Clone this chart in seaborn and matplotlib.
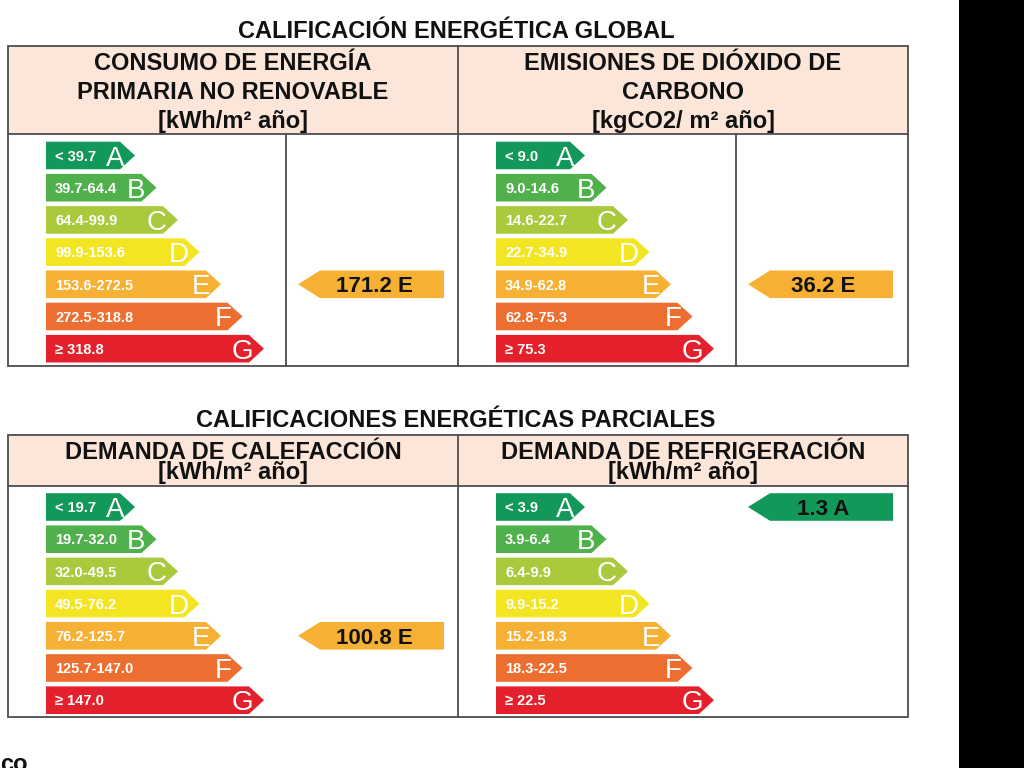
import matplotlib
matplotlib.use("Agg")
import matplotlib.pyplot as plt
from matplotlib.patches import Polygon, Rectangle
import seaborn as sns

sns.set_theme(style="white")
plt.rcParams['font.family'] = ['Liberation Sans', 'DejaVu Sans']

# ▶ data
classes = ["A", "B", "C", "D", "E", "F", "G"]
class_colors = sns.color_palette(["#12995a", "#4fb04c", "#aac93c", "#f4e523",
                                  "#f6b034", "#ec6e30", "#e4202c"])

cep_ranges = ["< 39.7", "39.7-64.4", "64.4-99.9", "99.9-153.6", "153.6-272.5", "272.5-318.8", "≥ 318.8"]
co2_ranges = ["< 9.0", "9.0-14.6", "14.6-22.7", "22.7-34.9", "34.9-62.8", "62.8-75.3", "≥ 75.3"]
cal_ranges = ["< 19.7", "19.7-32.0", "32.0-49.5", "49.5-76.2", "76.2-125.7", "125.7-147.0", "≥ 147.0"]
ref_ranges = ["< 3.9", "3.9-6.4", "6.4-9.9", "9.9-15.2", "15.2-18.3", "18.3-22.5", "≥ 22.5"]

panel_values = [171.2, 36.2, 100.8, 1.3]
panel_classes = ["E", "E", "E", "A"]

title_global = "CALIFICACIÓN ENERGÉTICA GLOBAL"
title_partial = "CALIFICACIONES ENERGÉTICAS PARCIALES"
head_cep = ["CONSUMO DE ENERGÍA", "PRIMARIA NO RENOVABLE", "[kWh/m² año]"]
head_co2 = ["EMISIONES DE DIÓXIDO DE", "CARBONO", "[kgCO2/ m² año]"]
head_cal = ["DEMANDA DE CALEFACCIÓN", "[kWh/m² año]"]
head_ref = ["DEMANDA DE REFRIGERACIÓN", "[kWh/m² año]"]

# ▶ layout (pixels)
ROW = 32.2
HALF = 13.8
LINE = "#4d4d4d"

fig = plt.figure(figsize=(10.24, 7.68), dpi=100)
ax = fig.add_axes([0, 0, 1, 1])
ax.set_xlim(0, 1024)
ax.set_ylim(768, 0)
ax.axis("off")


def draw_scale(x0, y0, ranges):
    for i, (cls, rng) in enumerate(zip(classes, ranges)):
        yc = y0 + ROW * i
        xt = x0 + 89 + 21.5 * i
        pts = [(x0, yc - HALF), (xt - 15, yc - HALF), (xt, yc), (xt - 15, yc + HALF), (x0, yc + HALF)]
        ax.add_patch(Polygon(pts, closed=True, color=class_colors[i], lw=0))
        ax.text(x0 + 9, yc + 5.2, rng, color="white", fontsize=10.5, fontweight="bold",
                ha="left", va="baseline")
        ax.text(xt - 11, yc + 10, cls, color="white", fontsize=20, ha="right", va="baseline")


def draw_value(xs, xe, y0, value, cls):
    i = classes.index(cls)
    yc = y0 + ROW * i
    pts = [(xs, yc), (xs + 22, yc - HALF), (xe, yc - HALF), (xe, yc + HALF), (xs + 22, yc + HALF)]
    ax.add_patch(Polygon(pts, closed=True, color=class_colors[i], lw=0))
    ax.text((xs + xe) / 2 + 3, yc + 8, f"{value:.1f} {cls}", color="#111111", fontsize=16,
            fontweight="bold", ha="center", va="baseline")


def draw_table(top, head_bot, bottom, subdividers):
    ax.add_patch(Rectangle((8, top), 900, head_bot - top, facecolor="#fce6d9", edgecolor="none"))
    ax.add_patch(Rectangle((8, top), 900, bottom - top, facecolor="none", edgecolor=LINE, lw=1.3))
    ax.plot([8, 908], [head_bot, head_bot], color=LINE, lw=1.3)
    ax.plot([458, 458], [top, bottom], color=LINE, lw=1.3)
    for xd in subdividers:
        ax.plot([xd, xd], [head_bot, bottom], color=LINE, lw=1.3)


def draw_header(xc, lines, baselines):
    for txt, yb in zip(lines, baselines):
        ax.text(xc, yb, txt, fontsize=17, fontweight="bold", color="#111111",
                ha="center", va="baseline")


# ▶ global rating
ax.text(456, 38, title_global, fontsize=17, fontweight="bold", color="#111111", ha="center", va="baseline")
draw_table(46, 134, 366, [286, 736])
draw_header(233, head_cep, [70, 99, 128])
draw_header(683, head_co2, [70, 99, 128])
draw_scale(46, 155.5, cep_ranges)
draw_scale(496, 155.5, co2_ranges)
draw_value(298, 444, 155.5, panel_values[0], panel_classes[0])
draw_value(748, 893, 155.5, panel_values[1], panel_classes[1])

# ▶ partial ratings
ax.text(456, 427, title_partial, fontsize=17, fontweight="bold", color="#111111", ha="center", va="baseline")
draw_table(435, 486, 717, [])
draw_header(233, head_cal, [459, 479])
draw_header(683, head_ref, [459, 479])
draw_scale(46, 507, cal_ranges)
draw_scale(496, 507, ref_ranges)
draw_value(298, 444, 507, panel_values[2], panel_classes[2])
draw_value(748, 893, 507, panel_values[3], panel_classes[3])

# ▶ page edge: cut-off text and dark strip
ax.text(0, 771, "co", fontsize=17, fontweight="bold", color="#111111", ha="left", va="baseline")
ax.add_patch(Rectangle((959, 0), 65, 768, facecolor="black", edgecolor="none"))

fig.savefig("out.png", dpi=100)
